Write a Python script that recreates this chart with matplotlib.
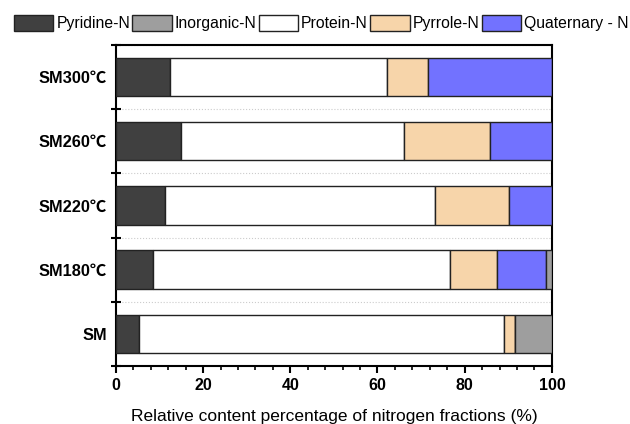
import matplotlib.pyplot as plt
import numpy as np

samples = ["SM", "SM180℃", "SM220℃", "SM260℃", "SM300℃"]
pyridine = [5.2, 8.5, 11.3, 15.0, 12.4]
protein = [83.8, 68.1, 61.8, 51.0, 49.7]
pyrrole = [2.6, 10.7, 17.1, 19.7, 9.4]
quaternary = [0.0, 11.3, 9.8, 14.3, 28.5]
inorganic = [8.4, 1.4, 0.0, 0.0, 0.0]

# stacking order left->right
stack = [
    ("Pyridine-N", pyridine, "#404040"),
    ("Protein-N", protein, "#ffffff"),
    ("Pyrrole-N", pyrrole, "#f7d5aa"),
    ("Quaternary - N", quaternary, "#7272ff"),
    ("Inorganic-N", inorganic, "#9e9e9e"),
]
legend_order = ["Pyridine-N", "Inorganic-N", "Protein-N", "Pyrrole-N", "Quaternary - N"]

plt.rcParams['font.family'] = ['Liberation Sans', 'Noto Sans CJK SC', 'DejaVu Sans']

fig = plt.figure(figsize=(6.3, 4.24), dpi=100)
ax = fig.add_axes([0.184, 0.137, 0.692, 0.757])

y = np.arange(len(samples))
left = np.zeros(len(samples))
handles = {}
for name, vals, col in stack:
    vals = np.array(vals)
    b = ax.barh(y, vals, left=left, height=0.6, color=col,
                edgecolor="#222222", linewidth=1.0, label=name, zorder=3)
    handles[name] = b
    left += vals

ax.set_xlim(0, 100)
ax.set_ylim(-0.5, len(samples) - 0.5)

ax.set_yticks(y)
ax.set_yticklabels(samples, fontsize=11.8, fontweight="bold")
ax.tick_params(axis="y", which="major", length=0, pad=6.5)
ax.set_yticks(np.arange(-0.5, len(samples), 1), minor=True)
ax.tick_params(axis="y", which="minor", direction="inout", length=7, width=1.5)
ax.grid(axis="y", which="minor", linestyle=":", color="#cccccc", linewidth=0.8, zorder=0)

ax.set_xticks(np.arange(0, 101, 20))
ax.set_xticks(np.arange(0, 101, 4), minor=True)
for lab in ax.get_xticklabels():
    lab.set_fontweight("bold")
ax.tick_params(axis="x", which="major", direction="out", length=5, width=1.5, labelsize=11.5, pad=4)
ax.tick_params(axis="x", which="minor", direction="out", length=3, width=1.2)

for s in ax.spines.values():
    s.set_linewidth(1.5)

ax.set_xlabel("Relative content percentage of nitrogen fractions (%)", fontsize=12.5, labelpad=11)

fig.legend([handles[n] for n in legend_order], legend_order, loc="center",
           bbox_to_anchor=(0.51, 1 - 23 / 424), ncol=5, frameon=False, fontsize=11.3,
           handlelength=2.5, handleheight=1.27, handletextpad=0.2, columnspacing=0.15,
           borderaxespad=0.0, borderpad=0.0)

fig.savefig("out.png", dpi=100)
